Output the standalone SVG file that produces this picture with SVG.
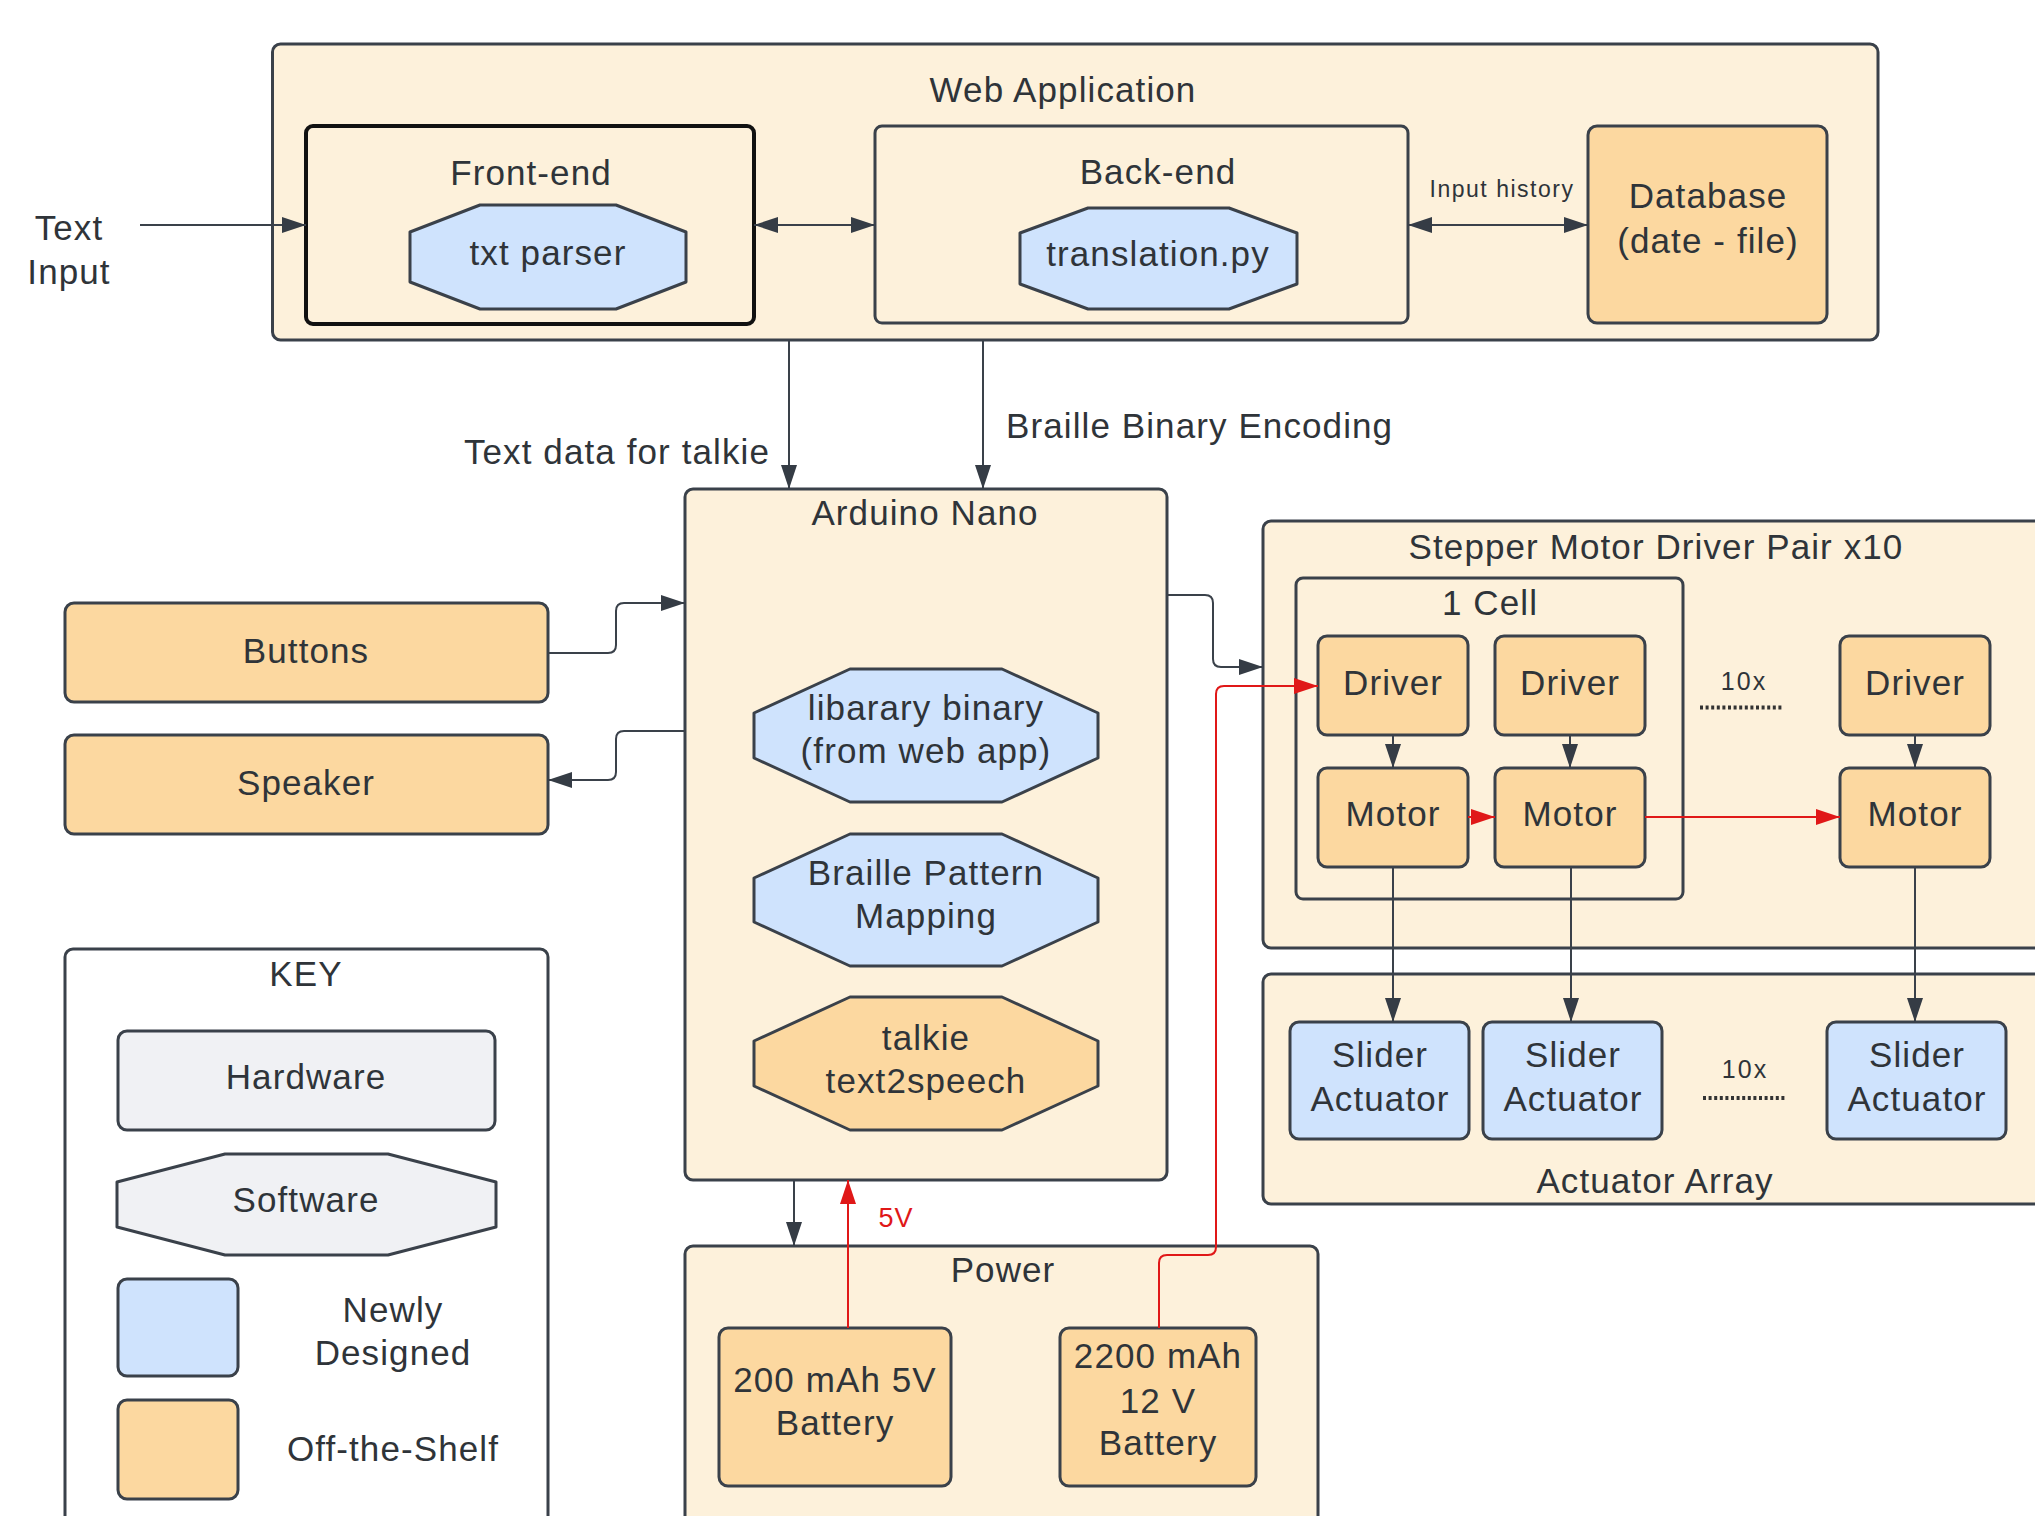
<svg xmlns="http://www.w3.org/2000/svg" width="2035" height="1516" viewBox="0 0 2035 1516">
<style>
text{font-family:"Liberation Sans",Arial,sans-serif;fill:#2f3439;font-size:35px;letter-spacing:1.1px;text-anchor:middle}
.sm{font-size:23px;letter-spacing:1.5px}
.tx{font-size:25px;letter-spacing:2px}
.red{fill:#e01818;font-size:27px;letter-spacing:1px}
.st{text-anchor:start}.en{text-anchor:end}
.cont{fill:#fdf1db;stroke:#3a414a;stroke-width:3}
.org{fill:#fcd8a0;stroke:#3a414a;stroke-width:3}
.blu{fill:#cfe3fd;stroke:#3a414a;stroke-width:3}
.gry{fill:#f0f1f4;stroke:#3a414a;stroke-width:3}
.oct{stroke-linejoin:round}
.ln{fill:none;stroke:#3a414a;stroke-width:2}
.rl{fill:none;stroke:#e01818;stroke-width:2}
.dots{stroke:#333;stroke-width:4;stroke-dasharray:3 2.6}
</style>
<defs>
<marker id="ah" viewBox="0 0 24 16" refX="24" refY="8" markerWidth="24" markerHeight="16" markerUnits="userSpaceOnUse" orient="auto-start-reverse"><path d="M0,0 L24,8 L0,16 Z" fill="#353c45"/></marker>
<marker id="ahr" viewBox="0 0 24 16" refX="24" refY="8" markerWidth="24" markerHeight="16" markerUnits="userSpaceOnUse" orient="auto-start-reverse"><path d="M0,0 L24,8 L0,16 Z" fill="#e01818"/></marker>
</defs>
<rect width="2035" height="1516" fill="#ffffff"/>

<!-- containers -->
<g id="web-application">
<rect class="cont" x="272.5" y="44" width="1605.5" height="296" rx="8"/>
<text x="1063" y="102">Web Application</text>
</g>
<g id="front-end">
<rect x="306" y="126" width="448" height="198" rx="7" fill="#fdf1db" stroke="#111" stroke-width="4"/>
<text x="531" y="185">Front-end</text>
</g>
<g id="txt-parser">
<polygon class="blu oct" points="480,205 616,205 686,232 686,282 616,309 480,309 410,282 410,232"/>
<text x="548" y="265">txt parser</text>
</g>
<g id="back-end">
<rect class="cont" x="875" y="126" width="533" height="197" rx="7"/>
<text x="1158" y="184">Back-end</text>
</g>
<g id="translation-py">
<polygon class="blu oct" points="1088,208 1229,208 1297,233 1297,284 1229,309 1088,309 1020,284 1020,233"/>
<text x="1158" y="266">translation.py</text>
</g>
<g id="database">
<rect class="org" x="1588" y="126" width="239" height="197" rx="9"/>
<text x="1708" y="208">Database</text>
<text x="1708" y="253">(date - file)</text>
</g>
<g id="text-input">
<text x="69" y="240">Text</text>
<text x="69" y="284">Input</text>
</g>

<g id="arduino-nano">
<rect class="cont" x="685" y="489" width="482" height="691" rx="8"/>
<text x="925" y="525">Arduino Nano</text>
</g>
<g id="libarary-binary">
<polygon class="blu oct" points="850,669 1002,669 1098,713 1098,758 1002,802 850,802 754,758 754,713"/>
<text x="926" y="720">libarary binary</text>
<text x="926" y="763">(from web app)</text>
</g>
<g id="braille-pattern-mapping">
<polygon class="blu oct" points="850,834 1002,834 1098,878 1098,922 1002,966 850,966 754,922 754,878"/>
<text x="926" y="885">Braille Pattern</text>
<text x="926" y="928">Mapping</text>
</g>
<g id="talkie-text2speech">
<polygon class="org oct" points="850,997 1002,997 1098,1041 1098,1086 1002,1130 850,1130 754,1086 754,1041"/>
<text x="926" y="1050">talkie</text>
<text x="926" y="1093">text2speech</text>
</g>

<g id="buttons">
<rect class="org" x="65" y="603" width="483" height="99" rx="9"/>
<text x="306" y="663">Buttons</text>
</g>
<g id="speaker">
<rect class="org" x="65" y="735" width="483" height="99" rx="9"/>
<text x="306" y="795">Speaker</text>
</g>

<g id="key">
<rect x="65" y="949" width="483" height="600" rx="8" fill="#ffffff" stroke="#3a414a" stroke-width="3"/>
<text x="306" y="986">KEY</text>
<rect class="gry" x="118" y="1031" width="377" height="99" rx="9"/>
<text x="306" y="1089">Hardware</text>
<polygon class="gry oct" points="225,1154 388,1154 496,1182 496,1227 388,1255 225,1255 117,1227 117,1182"/>
<text x="306" y="1212">Software</text>
<rect class="blu" x="118" y="1279" width="120" height="97" rx="9"/>
<text x="393" y="1322">Newly</text>
<text x="393" y="1365">Designed</text>
<rect class="org" x="118" y="1400" width="120" height="99" rx="9"/>
<text x="393" y="1461">Off-the-Shelf</text>
</g>

<g id="stepper-motor-driver-pair">
<rect class="cont" x="1263" y="521" width="800" height="427" rx="8"/>
<text x="1656" y="559">Stepper Motor Driver Pair x10</text>
</g>
<g id="one-cell">
<rect class="cont" x="1296" y="578" width="387" height="321" rx="7"/>
<text x="1490" y="615">1 Cell</text>
</g>
<g id="driver-1"><rect class="org" x="1318" y="636" width="150" height="99" rx="9"/><text x="1393" y="695">Driver</text></g>
<g id="driver-2"><rect class="org" x="1495" y="636" width="150" height="99" rx="9"/><text x="1570" y="695">Driver</text></g>
<g id="driver-3"><rect class="org" x="1840" y="636" width="150" height="99" rx="9"/><text x="1915" y="695">Driver</text></g>
<g id="motor-1"><rect class="org" x="1318" y="768" width="150" height="99" rx="9"/><text x="1393" y="826">Motor</text></g>
<g id="motor-2"><rect class="org" x="1495" y="768" width="150" height="99" rx="9"/><text x="1570" y="826">Motor</text></g>
<g id="motor-3"><rect class="org" x="1840" y="768" width="150" height="99" rx="9"/><text x="1915" y="826">Motor</text></g>
<g id="driver-repeat">
<text class="tx" x="1744" y="690">10x</text>
<line class="dots" x1="1700" y1="707.5" x2="1782" y2="707.5"/>
</g>

<g id="actuator-array">
<rect class="cont" x="1263" y="974" width="800" height="230" rx="8"/>
<text x="1655" y="1193">Actuator Array</text>
</g>
<g id="slider-1"><rect class="blu" x="1290" y="1022" width="179" height="117" rx="9"/><text x="1380" y="1067">Slider</text><text x="1380" y="1111">Actuator</text></g>
<g id="slider-2"><rect class="blu" x="1483" y="1022" width="179" height="117" rx="9"/><text x="1573" y="1067">Slider</text><text x="1573" y="1111">Actuator</text></g>
<g id="slider-3"><rect class="blu" x="1827" y="1022" width="179" height="117" rx="9"/><text x="1917" y="1067">Slider</text><text x="1917" y="1111">Actuator</text></g>
<g id="slider-repeat">
<text class="tx" x="1745" y="1078">10x</text>
<line class="dots" x1="1703" y1="1098" x2="1786" y2="1098"/>
</g>

<g id="power">
<rect class="cont" x="685" y="1246" width="633" height="300" rx="8"/>
<text x="1003" y="1282">Power</text>
</g>
<g id="battery-5v">
<rect class="org" x="719" y="1328" width="232" height="158" rx="9"/>
<text x="835" y="1392">200 mAh 5V</text>
<text x="835" y="1435">Battery</text>
</g>
<g id="battery-12v">
<rect class="org" x="1060" y="1328" width="196" height="158" rx="9"/>
<text x="1158" y="1368">2200 mAh</text>
<text x="1158" y="1413">12 V</text>
<text x="1158" y="1455">Battery</text>
</g>

<g id="connectors">
<path class="ln" d="M140,225 H306" marker-end="url(#ah)"/>
<path class="ln" d="M754,225 H875" marker-start="url(#ah)" marker-end="url(#ah)"/>
<path class="ln" d="M1408,225 H1588" marker-start="url(#ah)" marker-end="url(#ah)"/>
<text class="sm" x="1502" y="197">Input history</text>
<path class="ln" d="M789,340 V489" marker-end="url(#ah)"/>
<text class="en" x="770" y="464">Text data for talkie</text>
<path class="ln" d="M983,340 V489" marker-end="url(#ah)"/>
<text class="st" x="1006" y="438">Braille Binary Encoding</text>
<path class="ln" d="M548,653 H608 Q616,653 616,645 V611 Q616,603 624,603 H685" marker-end="url(#ah)"/>
<path class="ln" d="M685,731 H624 Q616,731 616,739 V772 Q616,780 608,780 H548" marker-end="url(#ah)"/>
<path class="ln" d="M1167,595 H1205 Q1213,595 1213,603 V659 Q1213,667 1221,667 H1263" marker-end="url(#ah)"/>
<path class="rl" d="M1159,1328 V1263 Q1159,1255 1167,1255 H1208 Q1216,1255 1216,1247 V694 Q1216,686 1224,686 H1318" marker-end="url(#ahr)"/>
<path class="ln" d="M1393,735 V768" marker-end="url(#ah)"/>
<path class="ln" d="M1570,735 V768" marker-end="url(#ah)"/>
<path class="ln" d="M1915,735 V768" marker-end="url(#ah)"/>
<path class="rl" d="M1468,817 H1495" marker-end="url(#ahr)"/>
<path class="rl" d="M1645,817 H1840" marker-end="url(#ahr)"/>
<path class="ln" d="M1393,867 V1022" marker-end="url(#ah)"/>
<path class="ln" d="M1571,867 V1022" marker-end="url(#ah)"/>
<path class="ln" d="M1915,867 V1022" marker-end="url(#ah)"/>
<path class="ln" d="M794,1180 V1246" marker-end="url(#ah)"/>
<path class="rl" d="M848,1328 V1180" marker-end="url(#ahr)"/>
<text class="red" x="896" y="1227">5V</text>
</g>
</svg>
